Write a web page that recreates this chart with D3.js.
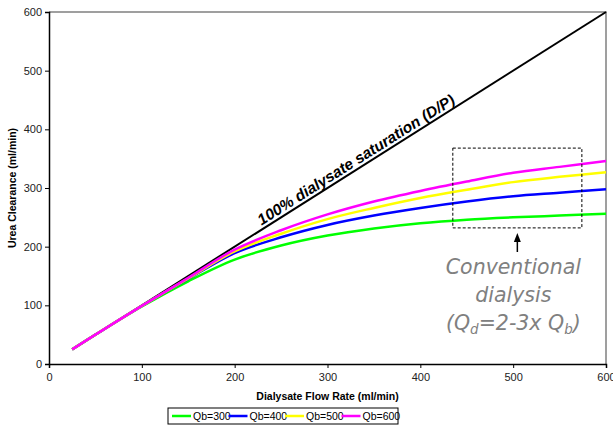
<!DOCTYPE html>
<html>
<head>
<meta charset="utf-8">
<script src="https://cdn.jsdelivr.net/npm/d3@7"></script>
<style>
  body { margin: 0; background: #fff; }
  svg { font-family: Arial, "Liberation Sans", sans-serif; }
</style>
</head>
<body>
<svg id="chart" width="613" height="425"></svg>
<script>
// dialysate flow rate (ml/min)
const flowRates = [25, 50, 100, 150, 200, 250, 300, 350, 400, 450, 500, 550, 600];
const qb300 = [25, 50, 98, 141, 178, 202, 219, 231, 240, 246, 250, 253, 256];
const qb400 = [25, 50, 99, 145, 189, 216, 237, 253, 266, 277, 286, 292, 298];
const qb500 = [25, 50, 99, 146, 192, 222, 247, 266, 283, 297, 310, 319, 327];
const qb600 = [25, 50, 99, 147, 195, 228, 255, 277, 295, 311, 326, 336, 346];
const saturation = [25, 600]; // D/P = 100%
const seriesNames = ['Qb=300', 'Qb=400', 'Qb=500', 'Qb=600'];
const seriesColors = ['#00ff00', '#0000ff', '#ffff00', '#ff00ff'];
const xTicks = [0, 100, 200, 300, 400, 500, 600];
const yTicks = [0, 100, 200, 300, 400, 500, 600];
const boxX = [435, 574];
const boxY = [232, 368];

const svg = d3.select('#chart');
const mLeft = 49, mRight = 606, mTop = 12, mBottom = 364;

const x = d3.scaleLinear().domain([0, 600]).range([mLeft, mRight]);
const y = d3.scaleLinear().domain([0, 600]).range([mBottom, mTop]);

// frame (top & right)
svg.append('path')
  .attr('d', `M${mLeft},${mTop}H${mRight}V${mBottom}`)
  .attr('fill', 'none').attr('stroke', '#808080').attr('stroke-width', 1.5);

const xAxis = svg.append('g')
  .attr('transform', `translate(0,${mBottom})`)
  .call(d3.axisBottom(x).tickValues(xTicks).tickSize(4).tickPadding(5));
const yAxis = svg.append('g')
  .attr('transform', `translate(${mLeft},0)`)
  .call(d3.axisLeft(y).tickValues(yTicks).tickSize(4).tickPadding(3));
[xAxis, yAxis].forEach(g => {
  g.select('.domain').attr('stroke', '#000').attr('stroke-width', 1.5);
  g.selectAll('.tick line').attr('stroke', '#000');
  g.selectAll('.tick text').attr('font-size', 11).attr('fill', '#222')
    .attr('font-family', 'Arial, "Liberation Sans", sans-serif');
});

// axis titles
svg.append('text')
  .attr('x', (mLeft + mRight) / 2).attr('y', 400)
  .attr('text-anchor', 'middle').attr('font-size', 10.5).attr('font-weight', 'bold')
  .text('Dialysate Flow Rate (ml/min)');
svg.append('text')
  .attr('transform', `translate(16,${(mTop + mBottom) / 2}) rotate(-90)`)
  .attr('text-anchor', 'middle').attr('font-size', 10.5).attr('font-weight', 'bold')
  .text('Urea Clearance (ml/min)');

// 100% saturation line
svg.append('line')
  .attr('x1', x(saturation[0])).attr('y1', y(saturation[0]))
  .attr('x2', x(saturation[1])).attr('y2', y(saturation[1]))
  .attr('stroke', '#000').attr('stroke-width', 2);

const angle = Math.atan2(y(600) - y(0), x(600) - x(0)) * 180 / Math.PI;
svg.append('text')
  .attr('transform', `translate(${x(229)},${y(229) - 4}) rotate(${angle})`)
  .attr('font-size', 15.5).attr('font-weight', 'bold').attr('font-style', 'italic')
  .text('100% dialysate saturation (D/P)');

// clearance curves
const line = d3.line()
  .x((d, i) => x(flowRates[i]))
  .y(d => y(d))
  .curve(d3.curveCatmullRom.alpha(0.5));

[qb300, qb400, qb500, qb600].forEach((s, i) => {
  svg.append('path')
    .attr('d', line(s))
    .attr('fill', 'none')
    .attr('stroke', seriesColors[i])
    .attr('stroke-width', 2.5);
});

// conventional dialysis box
svg.append('rect')
  .attr('x', x(boxX[0])).attr('y', y(boxY[1]))
  .attr('width', x(boxX[1]) - x(boxX[0])).attr('height', y(boxY[0]) - y(boxY[1]))
  .attr('fill', 'none').attr('stroke', '#000').attr('stroke-width', 1)
  .attr('stroke-dasharray', '3,2');

const ax = x((boxX[0] + boxX[1]) / 2);
svg.append('line')
  .attr('x1', ax).attr('y1', 252).attr('x2', ax).attr('y2', 240)
  .attr('stroke', '#000').attr('stroke-width', 1.5);
svg.append('path')
  .attr('d', `M${ax},233L${ax - 3.5},242L${ax + 3.5},242Z`)
  .attr('fill', '#000');

const note = svg.append('g')
  .attr('font-family', '"DejaVu Sans", Verdana, sans-serif')
  .attr('font-style', 'italic').attr('font-size', 20.5)
  .attr('fill', '#808080').attr('text-anchor', 'middle');
note.append('text').attr('x', ax - 4).attr('y', 274).text('Conventional');
note.append('text').attr('x', ax - 4).attr('y', 302).text('dialysis');
const q = note.append('text').attr('x', ax - 4).attr('y', 330);
q.append('tspan').text('(Q');
q.append('tspan').attr('font-size', 13.5).attr('dy', 4).text('d');
q.append('tspan').attr('dy', -4).text('=2-3x Q');
q.append('tspan').attr('font-size', 13.5).attr('dy', 4).text('b');
q.append('tspan').attr('dy', -4).text(')');

// legend
const legend = svg.append('g').attr('transform', 'translate(168,408)');
legend.append('rect').attr('width', 230).attr('height', 16)
  .attr('fill', '#fff').attr('stroke', '#000').attr('stroke-width', 1);
seriesNames.forEach((name, i) => {
  const g = legend.append('g').attr('transform', `translate(${4 + i * 56.5},0)`);
  g.append('line').attr('x1', 0).attr('x2', 19).attr('y1', 8).attr('y2', 8)
    .attr('stroke', seriesColors[i]).attr('stroke-width', 2.5);
  g.append('text').attr('x', 21).attr('y', 12).attr('font-size', 10.5).attr('fill', '#000')
    .text(name);
});
</script>
</body>
</html>
